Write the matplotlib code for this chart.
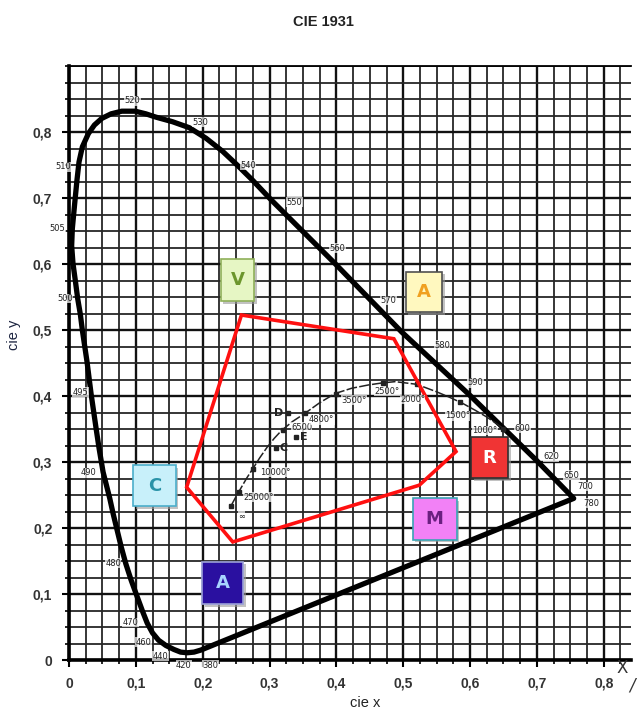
import numpy as np
import matplotlib
matplotlib.use("Agg")
import matplotlib.pyplot as plt
from matplotlib.patches import Rectangle, Polygon
from matplotlib.ticker import MultipleLocator, FixedLocator, FuncFormatter

# spectral locus (cie x, cie y), 380 nm round to 780 nm
locus_x = [0.197, 0.187, 0.177, 0.167, 0.157, 0.145, 0.134, 0.125, 0.117, 0.110, 0.102,
           0.093, 0.085, 0.078, 0.072, 0.066, 0.061, 0.056, 0.051, 0.045, 0.041, 0.037,
           0.033, 0.027, 0.020, 0.017, 0.013, 0.0095, 0.006, 0.004, 0.005, 0.009, 0.012,
           0.015, 0.020, 0.029, 0.038, 0.049, 0.063, 0.079, 0.099, 0.115, 0.130, 0.155,
           0.180, 0.205, 0.230, 0.252, 0.275, 0.303, 0.398, 0.498, 0.599, 0.699, 0.755]
locus_y = [0.015, 0.012, 0.011, 0.012, 0.016, 0.022, 0.030, 0.041, 0.056, 0.074, 0.096,
           0.121, 0.146, 0.172, 0.197, 0.222, 0.245, 0.265, 0.285, 0.321, 0.348, 0.376,
           0.404, 0.452, 0.500, 0.524, 0.548, 0.575, 0.601, 0.628, 0.654, 0.697, 0.728,
           0.755, 0.778, 0.798, 0.811, 0.821, 0.828, 0.832, 0.832, 0.828, 0.823, 0.816,
           0.807, 0.791, 0.771, 0.750, 0.727, 0.697, 0.601, 0.497, 0.402, 0.303, 0.245]

wl_text = ['380', '420', '440', '460', '470', '480', '490', '495', '500', '505', '510', '520',
           '530', '540', '550', '560', '570', '580', '590', '600', '620', '650', '700', '780']
wl_x = [0.212, 0.172, 0.137, 0.111, 0.092, 0.066, 0.029, 0.017, -0.006, -0.017, -0.009, 0.095,
        0.196, 0.268, 0.337, 0.402, 0.478, 0.558, 0.608, 0.678, 0.721, 0.752, 0.772, 0.782]
wl_y = [-0.008, -0.008, 0.006, 0.027, 0.057, 0.147, 0.284, 0.406, 0.548, 0.654, 0.748, 0.848,
        0.815, 0.750, 0.694, 0.624, 0.545, 0.477, 0.420, 0.351, 0.308, 0.280, 0.263, 0.238]

# planckian locus
planck_x = [0.242, 0.250, 0.258, 0.266, 0.275, 0.285, 0.296, 0.307, 0.318, 0.335, 0.353,
            0.375, 0.398, 0.423, 0.448, 0.468, 0.488, 0.520, 0.549, 0.570, 0.589, 0.607,
            0.624, 0.640, 0.654]
planck_y = [0.233, 0.248, 0.262, 0.276, 0.290, 0.306, 0.322, 0.336, 0.348, 0.362, 0.374,
            0.390, 0.404, 0.412, 0.417, 0.420, 0.422, 0.418, 0.407, 0.398, 0.389, 0.379,
            0.369, 0.358, 0.348]
temp_text = ['∞', '25000°', '10000°', '6500', '4800°', '3500°', '2500°', '2000°', '1500°', '1000°']
temp_x = [0.258, 0.283, 0.308, 0.348, 0.378, 0.426, 0.476, 0.514, 0.581, 0.622]
temp_y = [0.218, 0.247, 0.285, 0.353, 0.364, 0.394, 0.407, 0.395, 0.370, 0.348]
temp_mark_x = [0.242, 0.255, 0.275, 0.320, 0.353, 0.400, 0.470, 0.520, 0.585, 0.650]
temp_mark_y = [0.233, 0.255, 0.290, 0.348, 0.374, 0.404, 0.420, 0.418, 0.391, 0.350]

illum_text = ['D', 'C', 'E']
illum_x = [0.328, 0.310, 0.340]
illum_y = [0.374, 0.321, 0.338]

# red gamut polygon
gamut_x = [0.258, 0.486, 0.579, 0.524, 0.245, 0.176]
gamut_y = [0.523, 0.487, 0.316, 0.265, 0.179, 0.262]

# coloured letter boxes
box_text = ['V', 'A', 'C', 'A', 'R', 'M']
box_x = [0.252, 0.531, 0.128, 0.230, 0.629, 0.547]
box_y = [0.576, 0.558, 0.264, 0.117, 0.307, 0.214]
box_w = [0.050, 0.055, 0.063, 0.062, 0.055, 0.066]
box_h = [0.064, 0.061, 0.062, 0.064, 0.063, 0.063]
box_fill = ['#e6f6c4', '#fff8bf', '#c8f0fa', '#2a10a0', '#f03434', '#f281f6']
box_edge = ['#8fb05a', '#505050', '#4aaecb', '#9aa0d8', '#303030', '#3aa4b4']
box_ink = ['#6c962c', '#f0a020', '#2a93a8', '#a8d4ff', '#ffffff', '#6a1f80']

fig = plt.figure(figsize=(6.37, 7.11), dpi=100)
ax = fig.add_axes([0.1083, 0.0717, 0.8815, 0.835])
ax.set_xlim(0, 0.84)
ax.set_ylim(0, 0.9)

ax.xaxis.set_major_locator(FixedLocator(np.arange(0, 0.81, 0.1)))
ax.yaxis.set_major_locator(FixedLocator(np.arange(0, 0.81, 0.1)))
ax.xaxis.set_minor_locator(MultipleLocator(0.025))
ax.yaxis.set_minor_locator(MultipleLocator(0.025))
fmt = FuncFormatter(lambda v, p: '0' if abs(v) < 1e-9 else f'{v:.1f}'.replace('.', ','))
ax.xaxis.set_major_formatter(fmt)
ax.yaxis.set_major_formatter(fmt)
ax.grid(which='minor', color='#262626', lw=1.3)
ax.grid(which='major', color='#111111', lw=1.7)
ax.set_axisbelow(True)
ax.tick_params(which='major', length=5, width=1.5, pad=7, labelsize=10, labelcolor='#333333')
ax.tick_params(which='minor', length=3, width=1.2)
for lab in ax.get_xticklabels() + ax.get_yticklabels():
    lab.set_fontweight('bold')
    lab.set_family('Liberation Sans')
ax.spines['right'].set_visible(False)
ax.spines['top'].set_linewidth(1.3)
ax.spines['left'].set_linewidth(2.6)
ax.spines['bottom'].set_linewidth(2.6)

# spectral locus, closed by the purple line
ax.add_patch(Polygon(list(zip(locus_x, locus_y)), closed=True, fill=False,
                     ec='black', lw=3.8, joinstyle='round', zorder=4))

small = ['Liberation Sans Narrow', 'DejaVu Sans']
for t, x, y in zip(wl_text, wl_x, wl_y):
    ax.text(x, y, t, fontsize=6, family=small, ha='center', va='center',
            color='#222222', clip_on=False, zorder=6,
            bbox=dict(fc='white', ec='none', pad=0.3, alpha=0.7))

# planckian locus
ax.plot(planck_x, planck_y, color='#222222', lw=1.1, ls=(0, (7, 1.5)), zorder=4)
ax.plot(temp_mark_x, temp_mark_y, 's', color='#222222', ms=2.5, zorder=5)
for t, x, y in zip(temp_text, temp_x, temp_y):
    ax.text(x, y, t, fontsize=6, family=small, ha='center', va='center',
            color='#222222', zorder=6,
            bbox=dict(fc='white', ec='none', pad=0.2, alpha=0.7))
ax.plot(illum_x, illum_y, 's', color='#222222', ms=2.5, zorder=5)
for t, x, y in zip(illum_text, illum_x, illum_y):
    ax.text(x - 0.014 if t == 'D' else x + 0.011, y, t, fontsize=8, fontweight='bold',
            ha='center', va='center', color='#222222', zorder=6)

# red gamut
ax.add_patch(Polygon(list(zip(gamut_x, gamut_y)), closed=True, fill=False,
                     ec='#ff1010', lw=2.6, joinstyle='miter', zorder=5))

# letter boxes
for t, x, y, w, h, fc, ec, ink in zip(box_text, box_x, box_y, box_w, box_h,
                                      box_fill, box_edge, box_ink):
    ax.add_patch(Rectangle((x - w / 2 + 0.004, y - h / 2 - 0.004), w, h,
                           fc='#9a9a9a', ec='none', alpha=0.6, zorder=7))
    ax.add_patch(Rectangle((x - w / 2, y - h / 2), w, h, fc=fc, ec=ec, lw=1.2, zorder=8))
    ax.text(x, y, t, fontsize=13, fontweight='bold', ha='center', va='center',
            color=ink, zorder=9)

ax.text(0.827, -0.012, 'X', fontsize=12, ha='center', va='center', color='#333333',
        clip_on=False)
ax.text(0.842, -0.038, '/', fontsize=12, ha='center', va='center', color='#333333',
        clip_on=False, style='italic')

fig.text(0.507, 0.969, 'CIE 1931', fontsize=10.5, fontweight='bold', ha='center',
         va='center', family='Liberation Sans', color='#222222')
fig.text(0.573, 0.011, 'cie x', fontsize=10.5, ha='center', va='center',
         family='Liberation Sans', color='#222222')
fig.text(0.022, 0.529, 'cie y', fontsize=10.5, ha='center', va='center', rotation=90,
         family='Liberation Sans', color='#1c2440')

fig.savefig('out.png', dpi=100)
